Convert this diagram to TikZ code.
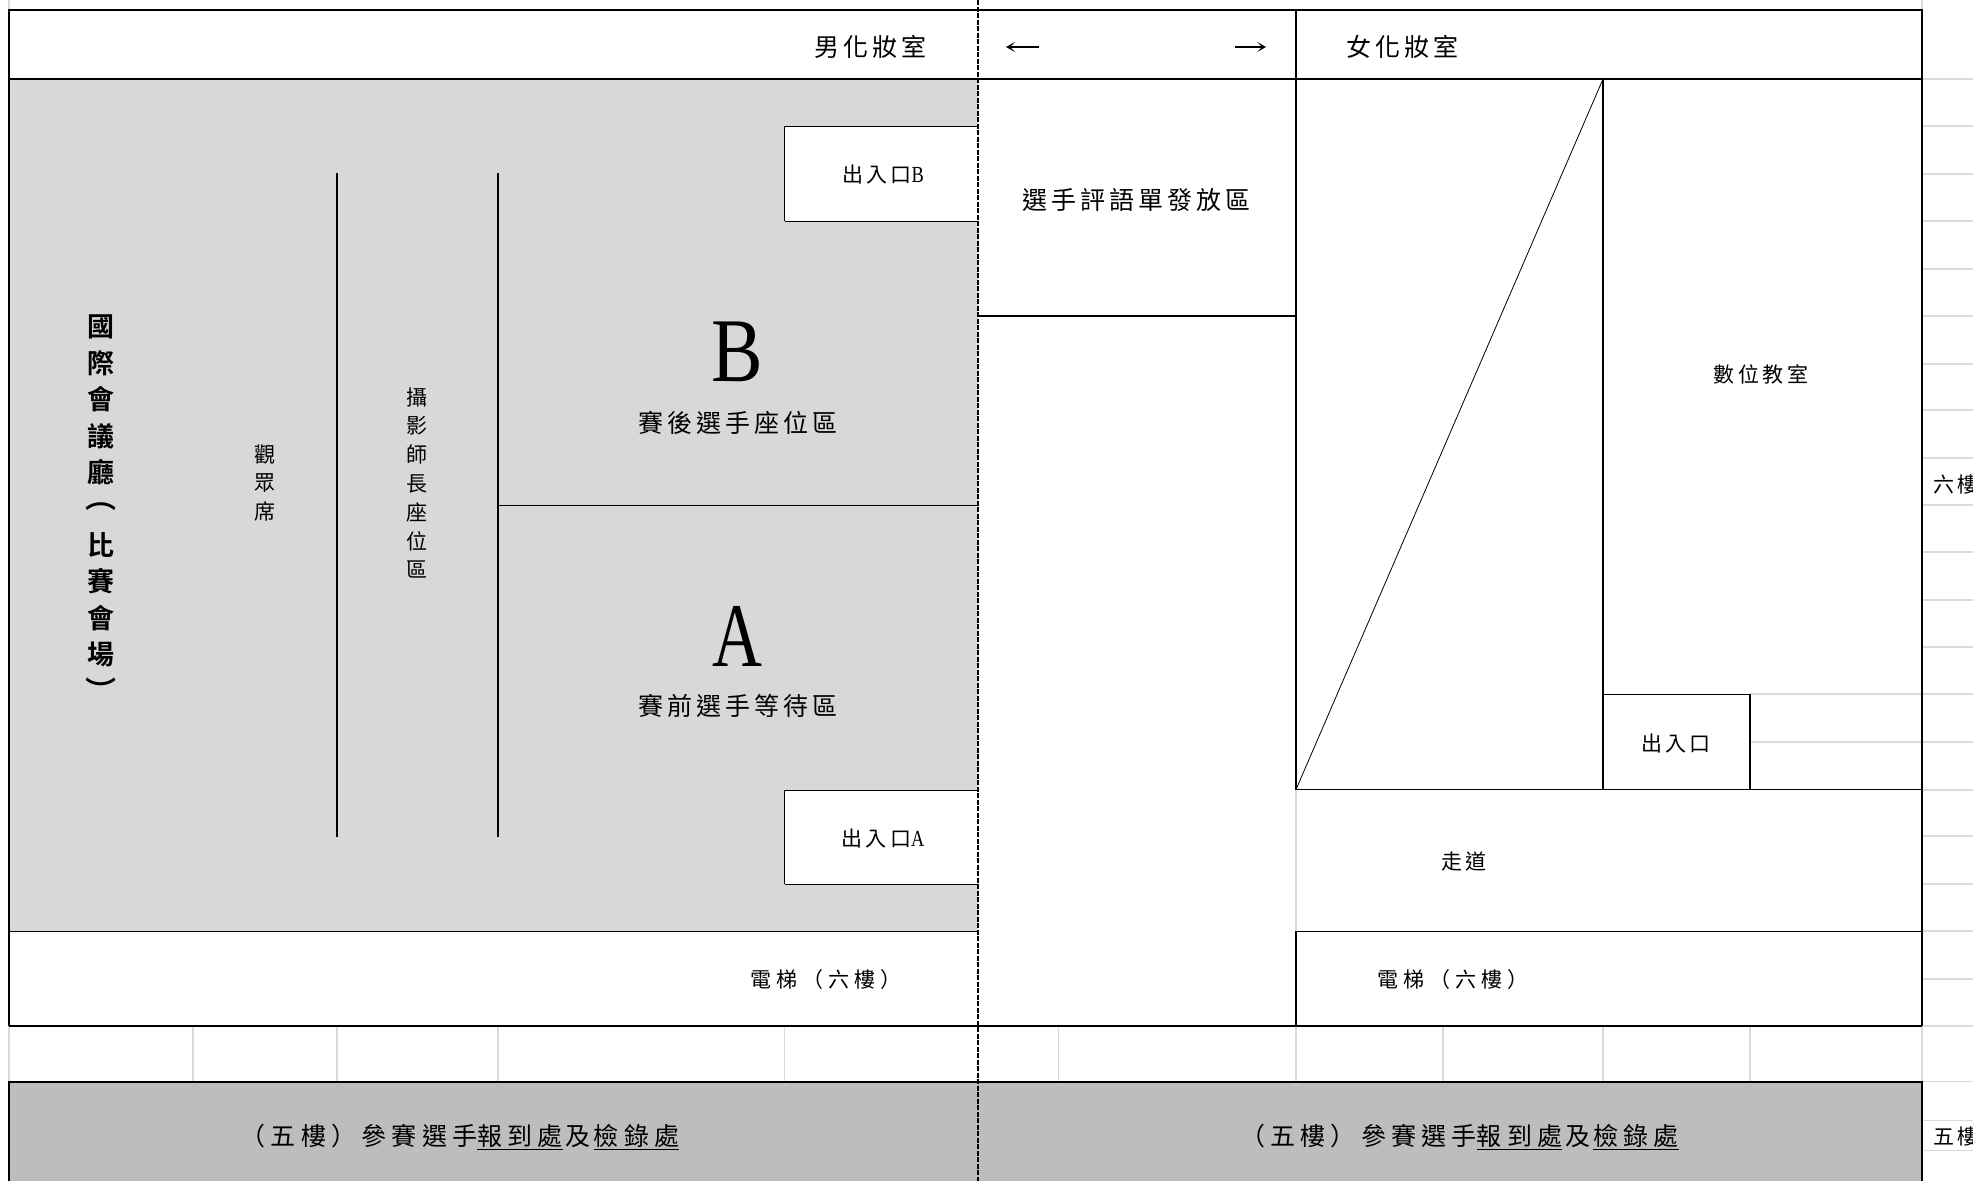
\documentclass[tikz,border=0pt]{standalone}
\usepackage{fontspec}
\usepackage{graphicx}
\usetikzlibrary{arrows.meta}
\setmainfont{Liberation Serif}
\newfontfamily\cjk[LetterSpace=16,BoldFont={Noto Sans CJK TC Bold}]{Noto Sans CJK TC}
\newfontfamily\cjkwide[LetterSpace=21]{Noto Sans CJK TC}
\newfontfamily\cjklift[LetterSpace=23]{Noto Sans CJK TC}
\newcommand{\latinB}[2]{\scalebox{#1}[1]{\rmfamily\fontsize{23}{25}\selectfont #2}}
\definecolor{lightfill}{HTML}{D8D8D8}
\definecolor{darkfill}{HTML}{BDBDBD}
\definecolor{gridline}{HTML}{DADADA}
\tikzset{
  wall/.style={draw=black,line width=1.8pt},
  rule/.style={draw=black,line width=1.4pt},
  thinwall/.style={draw=black,line width=1pt},
  grid/.style={draw=gridline,line width=1.3pt},
  big/.style={inner sep=0pt,font=\cjk\fontsize{25}{29}\selectfont},
  wide/.style={inner sep=0pt,font=\cjkwide\fontsize{25}{29}\selectfont},
  small/.style={inner sep=0pt,font=\cjk\fontsize{21}{25}\selectfont},
  lift/.style={inner sep=0pt,font=\cjklift\fontsize{21}{25}\selectfont},
  stack/.style={inner sep=0pt,align=center,font=\cjk\fontsize{21}{28.8}\selectfont},
  title/.style={inner sep=0pt,align=center,font=\cjk\bfseries\fontsize{27}{36.4}\selectfont},
  letter/.style={inner sep=0pt,font=\rmfamily\fontsize{91}{91}\selectfont},
  tip/.style={line width=1.6pt,-{Stealth[length=9pt,width=10pt,inset=5pt]}},
}
\begin{document}
\begin{tikzpicture}[x=1pt,y=-1pt]
\useasboundingbox (0,0) rectangle (1973,1181);
\fill[white] (0,0) rectangle (1973,1181);
% fills
\fill[lightfill] (9,79) rectangle (978,931);
\fill[white] (784.5,126) rectangle (978,221);
\fill[white] (784.5,790) rectangle (978,884);
\fill[darkfill] (9,1081.6) rectangle (1922,1181);
% pale sheet grid
\foreach \yy in {79,126,174,221,269,316,364,410,458,505,552,600,647,694,742,790,836,884,931,979,1026,1081.6,1120.6,1150.5}
  \draw[grid] (1922,\yy) -- (1973,\yy);
\draw[grid] (1922,0) -- (1922,10);
\draw[grid] (9,0) -- (9,10);
\foreach \xx in {9,193,337,498,784.5,1058.5,1296,1443,1603,1750,1922}
  \draw[grid] (\xx,1026) -- (\xx,1081.6);
\draw[grid] (1296,790) -- (1296,931);
\draw[grid] (1750,694) -- (1922,694);
\draw[grid] (1750,742) -- (1922,742);
% walls
\draw[wall] (9,1026) -- (9,10) -- (1922,10) -- (1922,1026);
\draw[wall] (9,1181) -- (9,1081.6) -- (1922,1081.6) -- (1922,1181);
\draw[wall] (9,1026) -- (1922,1026);
\draw[rule] (9,79) -- (1922,79);
\draw[thinwall] (9,931) -- (978,931);
\draw[rule] (978,316) -- (1296,316);
\draw[wall] (1296,10) -- (1296,789.5);
\draw[wall] (1296,931) -- (1296,1026);
\draw[wall] (1603,79) -- (1603,789.5);
\draw[thinwall] (1296,789.5) -- (1922,789.5);
\draw[thinwall] (1296,931) -- (1922,931);
\draw[thinwall] (1603,694) -- (1750,694);
\draw[wall] (1750,694) -- (1750,789.5);
\draw[line width=.8pt] (1296,789.5) -- (1603,79);
\draw[wall] (337,173) -- (337,837);
\draw[wall] (498,173) -- (498,837);
\draw[thinwall] (498,505) -- (978,505);
\draw[thinwall] (978,126) -- (784.5,126);
\draw[wall] (784.5,126) -- (784.5,221);
\draw[thinwall] (784.5,221) -- (978,221);
\draw[thinwall] (978,790) -- (784.5,790);
\draw[wall] (784.5,790) -- (784.5,884);
\draw[thinwall] (784.5,884) -- (978,884);
\draw[line width=1.2pt,dash pattern=on 5pt off 1.5pt] (978,0) -- (978,1181);
% arrows
\coordinate (la1) at (1039,47);
\coordinate (la2) at (1006,47);
\coordinate (ra1) at (1234.5,47);
\coordinate (ra2) at (1266,47);
\draw[tip] (la1) -- (la2);
\draw[tip] (ra1) -- (ra2);
% texts
\node[big] (men) at (870.5,47) {男化妝室};
\node[big] (women) at (1402,47) {女化妝室};
\node[big] (sheet) at (1136,200) {選手評語單發放區};
\node[small] (digital) at (1761,374) {數位教室};
\node[small] (gateB) at (883,175) {出入口\latinB{.8}{B}};
\node[small] (gateA) at (883,838) {出入口\latinB{.8}{A}};
\node[letter] (bigB) at (737.5,352) {\scalebox{.85}[1]{B}};
\node[letter] (bigA) at (737.5,636.5) {\scalebox{.76}[1]{A}};
\node[big] (after) at (737.5,422.5) {賽後選手座位區};
\node[big] (before) at (737.5,706) {賽前選手等待區};
\node[lift] (liftL) at (826,980) {電梯（六樓）};
\node[lift] (liftR) at (1453,980) {電梯（六樓）};
\node[small] (walk) at (1464,862) {走道};
\node[small] (door) at (1676,743) {出入口};
\node[wide] (reportL) at (460,1137) {（五樓）參賽選手\underline{報到處}\kern3pt 及\kern3pt\underline{檢錄處}};
\node[wide] (reportR) at (1459.5,1137) {（五樓）參賽選手\underline{報到處}\kern3pt 及\kern3pt\underline{檢錄處}};
\node[stack] (audience) at (265,483) {觀\\眾\\席};
\node[stack] (photo) at (417,483) {攝\\影\\師\\長\\座\\位\\區};
\node[title] (hall) at (100.8,508) {國\\際\\會\\議\\廳\\\smash{\raisebox{10pt}{\scalebox{1.15}[1]{︵}}}\\比\\賽\\會\\場\\\smash{\scalebox{1.15}[1]{︶}}};
\node[small,anchor=west] (six) at (1933,485) {六樓};
\node[small,anchor=west] (five) at (1933,1137) {五樓};
\end{tikzpicture}
\end{document}
